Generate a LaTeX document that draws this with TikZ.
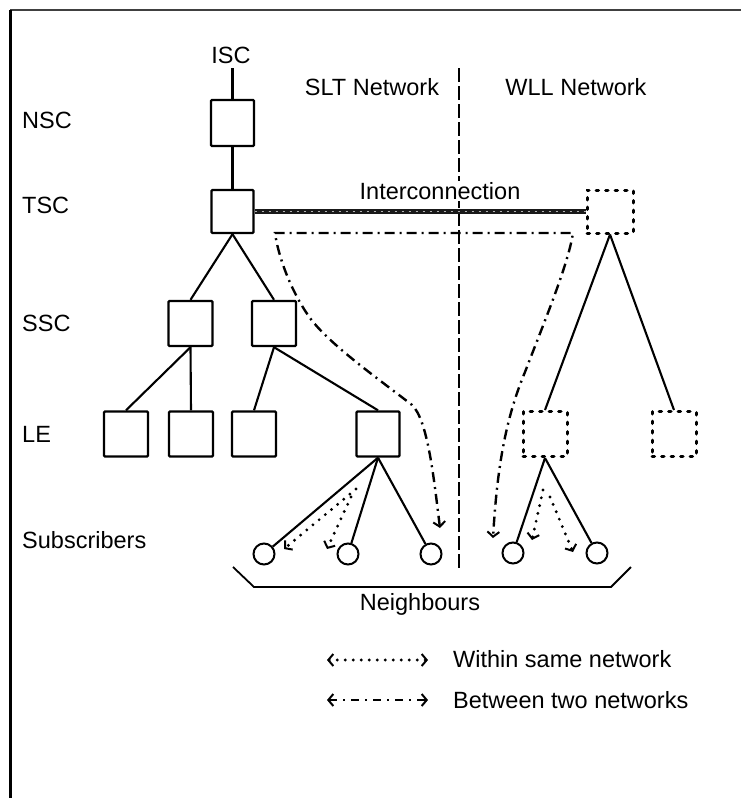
\documentclass[tikz,border=0pt]{standalone}
\usepackage{fontspec}
\setmainfont{Liberation Sans}
\usetikzlibrary{arrows.meta}
\begin{document}
\begin{tikzpicture}[x=1pt,y=-1pt,
  lbl/.style={font=\fontsize{23.5}{27}\selectfont, inner sep=0pt},
  sbox/.style={draw, line width=2.4pt, minimum width=44pt, minimum height=45pt, inner sep=0pt, rounded corners=1pt},
  dbox/.style={draw, line width=3pt, dash pattern=on 2.5pt off 7pt, line cap=round, minimum width=44pt, minimum height=45pt, inner sep=0pt},
  sub/.style={draw, circle, line width=2pt, minimum size=21pt, inner sep=0pt},
  conn/.style={line width=2.1pt},
  barb/.tip={Straight Barb[length=5pt,width=12pt,line width=2pt]},
  dotline/.style={line width=3.2pt, line cap=round, dash pattern=on 0pt off 8pt},
  dashdotline/.style={line width=2.4pt, dash pattern=on 10pt off 5pt on 2pt off 5pt},
  divider/.style={line width=2pt, dash pattern=on 14pt off 4pt},
  frameline/.style={line width=3pt},
  topline/.style={line width=1.6pt, black!75},
  ibar/.style={line width=5pt, black!90},
  ibartex/.style={line width=0.7pt, gray!60, dash pattern=on 2pt off 5pt},
  bracket/.style={line width=1.8pt}
]
\useasboundingbox (0,0) rectangle (741,798);
\fill[white] (0,0) rectangle (741,798);

% frame
\coordinate (fTL) at (10,10);
\coordinate (fTR) at (741,10);
\coordinate (fBL) at (10,798);
\draw[topline] (fTL) -- (fTR);
\draw[frameline] (fTL) -- (fBL);

% level labels
\node[lbl, anchor=west] (lNSC) at (22,120) {NSC};
\node[lbl, anchor=west] (lTSC) at (22,205) {TSC};
\node[lbl, anchor=west] (lSSC) at (22,323) {SSC};
\node[lbl, anchor=west] (lLE) at (22,434) {LE};
\node[lbl, anchor=west] (lSub) at (22,540) {Subscribers};

% divider
\coordinate (divtop) at (459,68);
\coordinate (divbot) at (459,568);
\draw[divider] (divtop) -- (divbot);

\node[lbl] (slt) at (372,87) {SLT Network};
\node[lbl] (wll) at (576,87) {WLL Network};

% SLT hierarchy
\node[lbl] (ISC) at (231,55) {ISC};
\coordinate (isctop) at (232.5,68);
\node[sbox, minimum width=43pt, minimum height=46pt] (NSC) at (232.5,123) {};
\node[sbox, minimum width=42pt, minimum height=43pt] (TSC) at (232.5,211.5) {};
\node[sbox] (SSC1) at (190.5,323.5) {};
\node[sbox] (SSC2) at (274,323.5) {};
\node[sbox] (LE1) at (126,434) {};
\node[sbox] (LE2) at (191,434) {};
\node[sbox] (LE3) at (254,434) {};
\node[sbox, minimum width=43pt] (LE4) at (378,434) {};

% WLL hierarchy
\node[dbox, minimum width=46pt, minimum height=43pt] (WTSC) at (610,211.5) {};
\node[dbox] (WLE1) at (545,434) {};
\node[dbox] (WLE2) at (674,434) {};

% subscribers
\node[sub] (c1) at (264,554) {};
\node[sub] (c2) at (348,554) {};
\node[sub] (c3) at (431,554) {};
\node[sub] (w1) at (513,553) {};
\node[sub] (w2) at (597,553) {};

% solid connectors
\draw[conn] (isctop) -- (NSC.north);
\draw[conn] (NSC.south) -- (TSC.north);
\draw[conn] (TSC.south) -- (SSC1.north);
\draw[conn] (TSC.south) -- (SSC2.north);
\draw[conn] (SSC1.south) -- (LE1.north);
\draw[conn] (SSC1.south) -- (LE2.north);
\draw[conn] (SSC2.south) -- (LE3.north);
\draw[conn] (SSC2.south) -- (LE4.north);
\draw[conn] (LE4.south) -- (c1);
\draw[conn] (LE4.south) -- (c2);
\draw[conn] (LE4.south) -- (c3);
\draw[conn] (WTSC.south) -- (WLE1.north);
\draw[conn] (WTSC.south) -- (WLE2.north);
\draw[conn] (WLE1.south) -- (w1);
\draw[conn] (WLE1.south) -- (w2);

% interconnection
\draw[ibar] (TSC.east) -- (WTSC.west);
\draw[ibartex] (TSC.east) -- (WTSC.west);
\node[lbl, fill=white, inner sep=1pt] (inter) at (440,191) {Interconnection};

% between-network path
\coordinate (bA) at (440,528);
\coordinate (bB) at (493,538);
\draw[dashdotline, barb-barb] (bA) .. controls (434,480) and (428,420) .. (412,405)
  .. controls (380,380) and (330,345) .. (310,318)
  .. controls (290,290) and (278,255) .. (275,233)
  -- (573,233)
  .. controls (568,265) and (545,320) .. (525,372)
  .. controls (505,420) and (497,470) .. (bB);

% within-network dotted arrows
\coordinate (s1a) at (356,489);
\coordinate (s1b) at (284,549);
\coordinate (s2a) at (351,497);
\coordinate (s2b) at (327,549);
\coordinate (w1a) at (543,490);
\coordinate (w1b) at (532,540);
\coordinate (w2a) at (550,497);
\coordinate (w2b) at (573,552);
\draw[dotline, -barb] (s1a) -- (s1b);
\draw[dotline, -barb] (s2a) -- (s2b);
\draw[dotline, -barb] (w1a) -- (w1b);
\draw[dotline, -barb] (w2a) -- (w2b);

% neighbours bracket
\coordinate (nb1) at (233,567);
\coordinate (nb2) at (254,587);
\coordinate (nb3) at (611,587);
\coordinate (nb4) at (631,567);
\draw[bracket] (nb1) -- (nb2) -- (nb3) -- (nb4);
\node[lbl] (neigh) at (420,604) {Neighbours};

% legend
\coordinate (la1) at (327,660);
\coordinate (la2) at (428,660);
\coordinate (lb1) at (327,700);
\coordinate (lb2) at (428,700);
\draw[dotline, barb-barb] (la1) -- (la2);
\draw[dashdotline, dash pattern=on 8pt off 6pt on 2pt off 6pt, barb-barb] (lb1) -- (lb2);
\node[lbl, anchor=west] (legA) at (453,659) {Within same network};
\node[lbl, anchor=west] (legB) at (453,700) {Between two networks};
\end{tikzpicture}
\end{document}
